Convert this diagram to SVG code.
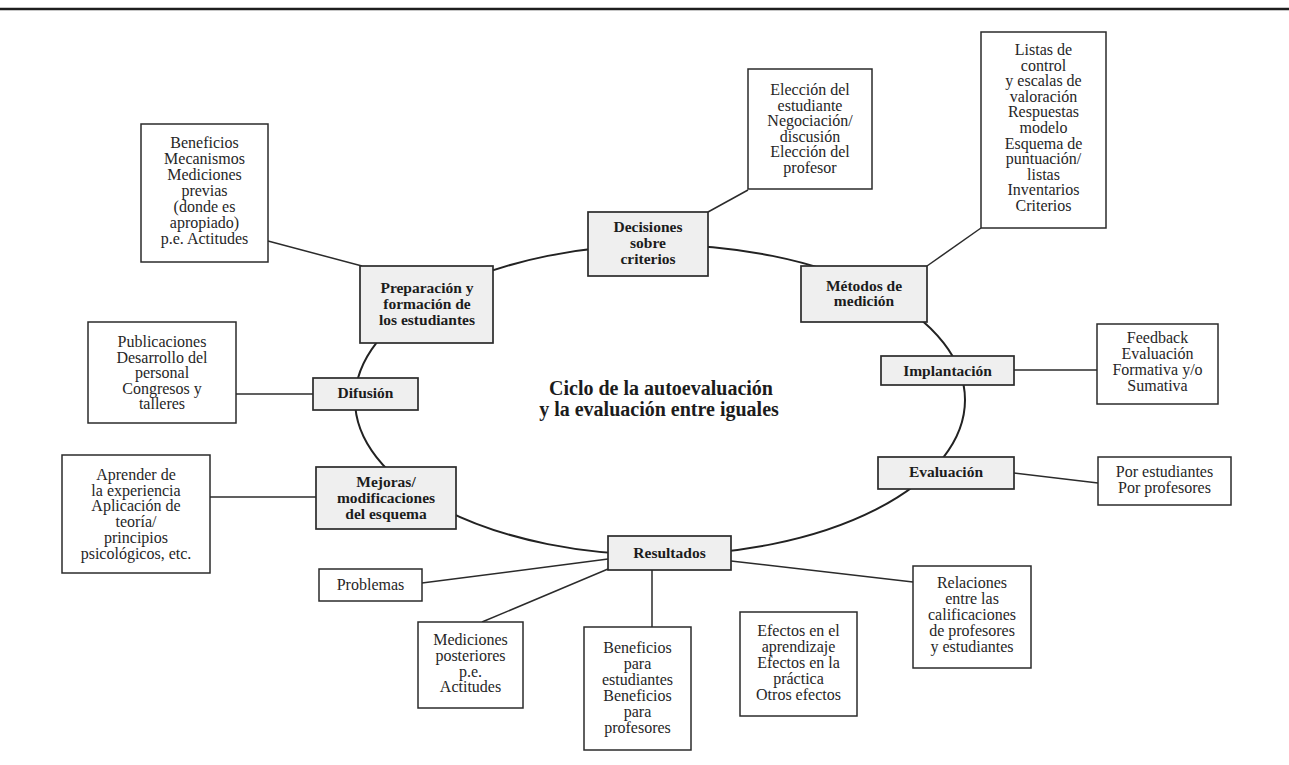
<svg xmlns="http://www.w3.org/2000/svg" width="1289" height="765" viewBox="0 0 1289 765">
  <style>
    .detail { fill: #ffffff; stroke: #2b2b2b; stroke-width: 1.5; }
    .stage { fill: #efefef; stroke: #2b2b2b; stroke-width: 1.7; }
    .wire { fill: none; stroke: #2b2b2b; stroke-width: 1.5; }
    .ring { fill: none; stroke: #222222; stroke-width: 2; }
    text { font-family: "Liberation Serif", "Times New Roman", serif; text-anchor: middle; fill: #262626; }
    .txt { font-size: 16px; }
    .lbl { font-size: 15.5px; font-weight: bold; fill: #1c1c1c; }
    .ttl { font-size: 20px; font-weight: bold; fill: #1c1c1c; }
  </style>

  <rect width="1289" height="765" fill="#ffffff"/>
  <!-- page header rule -->
  <line x1="0" y1="9" x2="1289" y2="9" stroke="#1e1e1e" stroke-width="2.6"/>

  <!-- connectors: the cycle ring and the spokes to the detail boxes -->
  <g id="connectors">
    <ellipse class="ring" cx="660" cy="400" rx="305" ry="155"/>
    <line class="wire" x1="268" y1="241" x2="362" y2="266"/>
    <line class="wire" x1="748" y1="190" x2="708" y2="212"/>
    <line class="wire" x1="981" y1="228" x2="927" y2="266"/>
    <line class="wire" x1="1014" y1="370" x2="1097" y2="370"/>
    <line class="wire" x1="1014" y1="473" x2="1098" y2="483"/>
    <line class="wire" x1="313" y1="394" x2="236" y2="394"/>
    <line class="wire" x1="316" y1="497" x2="210" y2="497"/>
    <line class="wire" x1="608" y1="559" x2="422" y2="583"/>
    <line class="wire" x1="608" y1="569" x2="482" y2="622"/>
    <line class="wire" x1="652" y1="570" x2="652" y2="627"/>
    <line class="wire" x1="731" y1="561" x2="913" y2="582"/>
  </g>

  <!-- central caption -->
  <g id="caption">
    <text class="ttl" x="661" y="395">Ciclo de la autoevaluación</text>
    <text class="ttl" x="659" y="416">y la evaluación entre iguales</text>
  </g>

  <!-- cycle stages -->
  <g id="preparacion">
    <rect class="stage" x="360" y="266" width="133" height="77"/>
    <text class="lbl"><tspan x="427" y="293">Preparación y</tspan><tspan x="427" y="309">formación de</tspan><tspan x="427" y="325">los estudiantes</tspan></text>
  </g>
  <g id="decisiones">
    <rect class="stage" x="588" y="212" width="120" height="64"/>
    <text class="lbl"><tspan x="648" y="232">Decisiones</tspan><tspan x="648" y="248">sobre</tspan><tspan x="648" y="264">criterios</tspan></text>
  </g>
  <g id="metodos">
    <rect class="stage" x="801" y="266" width="126" height="56"/>
    <text class="lbl"><tspan x="864" y="291">Métodos de</tspan><tspan x="864" y="306">medición</tspan></text>
  </g>
  <g id="implantacion">
    <rect class="stage" x="881" y="356" width="133" height="29"/>
    <text class="lbl" x="947.5" y="376">Implantación</text>
  </g>
  <g id="evaluacion">
    <rect class="stage" x="878" y="457" width="136" height="32"/>
    <text class="lbl" x="946" y="477">Evaluación</text>
  </g>
  <g id="resultados">
    <rect class="stage" x="608" y="536" width="123" height="34"/>
    <text class="lbl" x="669.5" y="558">Resultados</text>
  </g>
  <g id="mejoras">
    <rect class="stage" x="316" y="467" width="140" height="62"/>
    <text class="lbl"><tspan x="386" y="487">Mejoras/</tspan><tspan x="386" y="503">modificaciones</tspan><tspan x="386" y="519">del esquema</tspan></text>
  </g>
  <g id="difusion">
    <rect class="stage" x="313" y="378" width="105" height="32"/>
    <text class="lbl" x="365.5" y="398">Difusión</text>
  </g>

  <!-- detail boxes -->
  <g id="prep-detalle">
    <rect class="detail" x="141" y="124" width="127" height="138"/>
    <text class="txt"><tspan x="204.5" y="148">Beneficios</tspan><tspan x="204.5" y="164">Mecanismos</tspan><tspan x="204.5" y="180">Mediciones</tspan><tspan x="204.5" y="196">previas</tspan><tspan x="204.5" y="212">(donde es</tspan><tspan x="204.5" y="228">apropiado)</tspan><tspan x="204.5" y="244">p.e. Actitudes</tspan></text>
  </g>
  <g id="criterios-detalle">
    <rect class="detail" x="748" y="69" width="124" height="120"/>
    <text class="txt"><tspan x="810" y="95">Elección del</tspan><tspan x="810" y="111">estudiante</tspan><tspan x="810" y="126">Negociación/</tspan><tspan x="810" y="142">discusión</tspan><tspan x="810" y="157">Elección del</tspan><tspan x="810" y="173">profesor</tspan></text>
  </g>
  <g id="metodos-detalle">
    <rect class="detail" x="981" y="32" width="125" height="196"/>
    <text class="txt"><tspan x="1043.5" y="55">Listas de</tspan><tspan x="1043.5" y="70.6">control</tspan><tspan x="1043.5" y="86.2">y escalas de</tspan><tspan x="1043.5" y="101.8">valoración</tspan><tspan x="1043.5" y="117.4">Respuestas</tspan><tspan x="1043.5" y="133">modelo</tspan><tspan x="1043.5" y="148.6">Esquema de</tspan><tspan x="1043.5" y="164.2">puntuación/</tspan><tspan x="1043.5" y="179.8">listas</tspan><tspan x="1043.5" y="195.4">Inventarios</tspan><tspan x="1043.5" y="211">Criterios</tspan></text>
  </g>
  <g id="implantacion-detalle">
    <rect class="detail" x="1097" y="324" width="121" height="80"/>
    <text class="txt"><tspan x="1157.5" y="343">Feedback</tspan><tspan x="1157.5" y="359">Evaluación</tspan><tspan x="1157.5" y="375">Formativa y/o</tspan><tspan x="1157.5" y="391">Sumativa</tspan></text>
  </g>
  <g id="evaluacion-detalle">
    <rect class="detail" x="1098" y="457" width="133" height="48"/>
    <text class="txt"><tspan x="1164.5" y="477">Por estudiantes</tspan><tspan x="1164.5" y="493">Por profesores</tspan></text>
  </g>
  <g id="relaciones">
    <rect class="detail" x="913" y="566" width="118" height="102"/>
    <text class="txt"><tspan x="972" y="588">Relaciones</tspan><tspan x="972" y="604">entre las</tspan><tspan x="972" y="620">calificaciones</tspan><tspan x="972" y="636">de profesores</tspan><tspan x="972" y="652">y estudiantes</tspan></text>
  </g>
  <g id="efectos">
    <rect class="detail" x="740" y="612" width="117" height="104"/>
    <text class="txt"><tspan x="798.5" y="636">Efectos en el</tspan><tspan x="798.5" y="652">aprendizaje</tspan><tspan x="798.5" y="668">Efectos en la</tspan><tspan x="798.5" y="684">práctica</tspan><tspan x="798.5" y="700">Otros efectos</tspan></text>
  </g>
  <g id="beneficios-resultado">
    <rect class="detail" x="584" y="627" width="107" height="123"/>
    <text class="txt"><tspan x="637.5" y="653">Beneficios</tspan><tspan x="637.5" y="669">para</tspan><tspan x="637.5" y="685">estudiantes</tspan><tspan x="637.5" y="701">Beneficios</tspan><tspan x="637.5" y="717">para</tspan><tspan x="637.5" y="733">profesores</tspan></text>
  </g>
  <g id="mediciones-posteriores">
    <rect class="detail" x="418" y="622" width="105" height="86"/>
    <text class="txt"><tspan x="470.5" y="645">Mediciones</tspan><tspan x="470.5" y="661">posteriores</tspan><tspan x="470.5" y="677">p.e.</tspan><tspan x="470.5" y="692">Actitudes</tspan></text>
  </g>
  <g id="problemas">
    <rect class="detail" x="319" y="569" width="103" height="32"/>
    <text class="txt" x="370.5" y="590">Problemas</text>
  </g>
  <g id="mejoras-detalle">
    <rect class="detail" x="62" y="455" width="148" height="118"/>
    <text class="txt"><tspan x="136" y="480">Aprender de</tspan><tspan x="136" y="495.5">la experiencia</tspan><tspan x="136" y="511">Aplicación de</tspan><tspan x="136" y="527">teoría/</tspan><tspan x="136" y="543">principios</tspan><tspan x="136" y="559">psicológicos, etc.</tspan></text>
  </g>
  <g id="difusion-detalle">
    <rect class="detail" x="88" y="322" width="148" height="101"/>
    <text class="txt"><tspan x="162" y="347">Publicaciones</tspan><tspan x="162" y="362.5">Desarrollo del</tspan><tspan x="162" y="378">personal</tspan><tspan x="162" y="394">Congresos y</tspan><tspan x="162" y="409">talleres</tspan></text>
  </g>
</svg>
